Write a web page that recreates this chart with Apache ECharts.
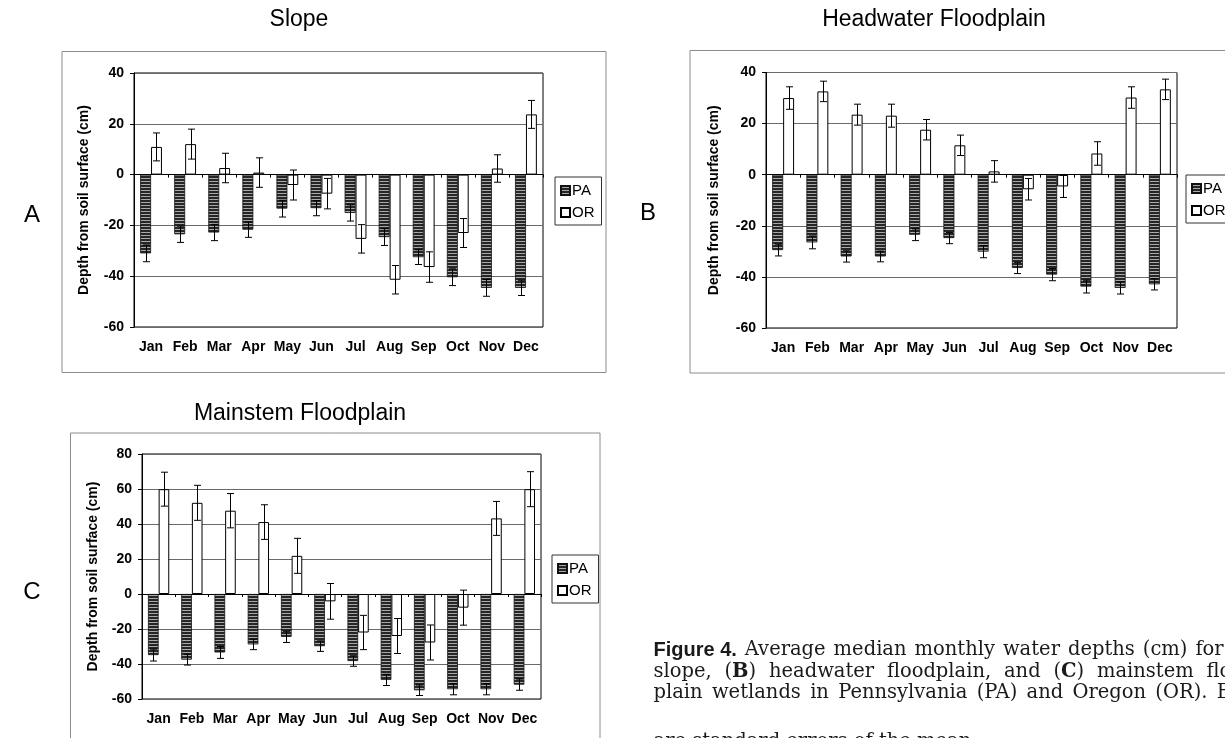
<!DOCTYPE html>
<html><head><meta charset="utf-8">
<script src="https://cdn.jsdelivr.net/npm/echarts@6/dist/echarts.min.js"></script>
<style>html,body{margin:0;padding:0;background:#fff}#c{width:1225px;height:738px}</style>
</head><body><div id="c"></div>
<script>
// ---------- data ----------
const months = ['Jan','Feb','Mar','Apr','May','Jun','Jul','Aug','Sep','Oct','Nov','Dec'];
const seriesNames = ['PA','OR'];
const yAxisName = 'Depth from soil surface (cm)';

const slopePA   = [-31.0,-23.5,-22.8,-21.7,-13.4,-13.2,-15.1,-24.6,-32.5,-40.4,-44.6,-44.6];
const slopePAse = [3.3,3.2,3.2,3.0,3.3,3.0,3.2,3.3,2.9,3.3,3.3,3.0];
const slopeOR   = [10.9,12.0,2.6,0.8,-4.1,-7.5,-25.3,-41.4,-36.4,-23.0,2.4,23.7];
const slopeORse = [5.5,5.9,5.8,5.8,5.9,6.0,5.6,5.6,6.0,5.7,5.4,5.5];

const headPA   = [-29.5,-26.5,-32.0,-32.0,-23.5,-24.8,-30.1,-36.5,-39.1,-43.8,-44.3,-42.9];
const headPAse = [2.3,2.5,2.2,2.1,2.3,2.2,2.4,2.2,2.4,2.5,2.4,2.2];
const headOR   = [30.0,32.6,23.5,23.1,17.6,11.5,1.3,-5.7,-4.6,8.3,30.2,33.4];
const headORse = [4.4,4.0,4.1,4.5,4.0,4.0,4.2,4.2,4.3,4.6,4.2,4.0];

const mainPA   = [-34.9,-37.5,-33.4,-28.8,-24.5,-29.8,-38.3,-49.1,-55.0,-54.4,-54.4,-51.8];
const mainPAse = [3.4,3.1,3.4,3.0,3.2,3.0,3.0,3.2,3.0,3.2,3.2,3.2];
const mainOR   = [59.9,52.1,47.6,41.1,21.8,-4.2,-22.0,-24.0,-27.7,-7.8,43.2,59.9];
const mainORse = [9.7,10.0,9.8,9.9,10.0,10.2,9.8,10.0,10.0,10.0,9.7,10.0];

const panelTitles = ['Slope','Headwater Floodplain','Mainstem Floodplain'];
const panelLetters = ['A','B','C'];
const yMinAB = -60, yMaxAB = 40;
const yMinC = -60, yMaxC = 80;
const yStep = 20;

const captionLead = 'Figure 4.';
const captionLines = [
  'Average median monthly water depths (cm) for (A)',
  'slope, (B) headwater floodplain, and (C) mainstem flood-',
  'plain wetlands in Pennsylvania (PA) and Oregon (OR). Bars',
  'are standard errors of the mean.'
];

// ---------- layout / style ----------
const SANS = '"Liberation Sans", Arial, sans-serif';
const SERIF = '"DejaVu Serif", serif';
const BAR_FRAC = 0.32;

function makeStripe(){
  const c = document.createElement('canvas');
  c.width = 4; c.height = 3;
  const g = c.getContext('2d');
  g.fillStyle = '#262626'; g.fillRect(0,0,4,3);
  g.fillStyle = '#a9a9a9'; g.fillRect(0,1,4,1);
  return c;
}
const paFill = { image: makeStripe(), repeat: 'repeat' };

const panels = [
  { pa: slopePA, paSe: slopePAse, or: slopeOR, orSe: slopeORse, yMin: yMinAB, yMax: yMaxAB,
    grid: {left:134, top:73, width:409, height:254}, nameGap: 43,
    legend: {left:555, top:177}, box: [62,51.5,544,321], titleXY: [299,20], letterXY: [32,215] },
  { pa: headPA, paSe: headPAse, or: headOR, orSe: headORse, yMin: yMinAB, yMax: yMaxAB,
    grid: {left:766, top:72.5, width:411, height:255.5}, nameGap: 45,
    legend: {left:1186, top:175}, box: [690,50.5,620,322.5], titleXY: [934,20], letterXY: [648,213] },
  { pa: mainPA, paSe: mainPAse, or: mainOR, orSe: mainORse, yMin: yMinC, yMax: yMaxC,
    grid: {left:142, top:454, width:399, height:245}, nameGap: 42,
    legend: {left:552, top:555}, box: [70.5,433,529.5,400], titleXY: [300,414], letterXY: [32,592] }
];

function errRender(side){
  return function(params, api){
    const k = api.value(0), v = api.value(1), se = api.value(2);
    const c = api.coord([k, v]);
    const bw = api.size([1, 0])[0];
    const x = Math.round(c[0] + side * bw * BAR_FRAC / 2) + 0.5;
    const hi = api.coord([k, v + se])[1];
    const lo = api.coord([k, v - se])[1];
    const cap = 3.5;
    const st = {stroke:'#000', lineWidth:1};
    return { type:'group', children:[
      {type:'line', shape:{x1:x, y1:hi, x2:x, y2:lo}, style:st},
      {type:'line', shape:{x1:x-cap, y1:hi, x2:x+cap, y2:hi}, style:st},
      {type:'line', shape:{x1:x-cap, y1:lo, x2:x+cap, y2:lo}, style:st}
    ]};
  };
}

const option = {
  animation: false,
  backgroundColor: '#fff',
  textStyle: { fontFamily: SANS, color: '#000' },
  grid: [], xAxis: [], yAxis: [], series: [], legend: [], graphic: []
};

panels.forEach((p, i) => {
  option.grid.push(Object.assign({}, p.grid, {show:true, borderColor:'#000', borderWidth:1,
    backgroundColor:'transparent', containLabel:false, outerBoundsMode:'none'}));
  option.xAxis.push({ gridIndex:i, type:'category', data:months, position:'bottom',
    axisLine:{onZero:true, lineStyle:{color:'#000', width:1}},
    axisTick:{show:true, length:3, lineStyle:{color:'#000'}},
    axisLabel:{show:false}, splitLine:{show:false} });
  option.xAxis.push({ gridIndex:i, type:'category', data:months, position:'bottom',
    axisLine:{show:false, onZero:false}, axisTick:{show:false},
    axisLabel:{interval:0, margin:13, fontSize:14, fontWeight:'bold', color:'#000', fontFamily:SANS},
    splitLine:{show:false} });
  option.yAxis.push({ gridIndex:i, type:'value', min:p.yMin, max:p.yMax, interval:yStep,
    axisLine:{show:true, lineStyle:{color:'#000'}},
    axisTick:{show:true, length:4, lineStyle:{color:'#000'}},
    axisLabel:{margin:10, fontSize:14, fontWeight:'bold', color:'#000', fontFamily:SANS},
    splitLine:{show:true, lineStyle:{color:'#6a6a6a', width:1}},
    name: yAxisName, nameLocation:'middle', nameGap:p.nameGap,
    nameTextStyle:{fontSize:14, fontWeight:'bold', color:'#000', fontFamily:SANS} });

  const xi = 2*i;
  option.series.push(
    { type:'bar', name:seriesNames[0], xAxisIndex:xi, yAxisIndex:i, data:p.pa,
      barWidth:(BAR_FRAC*100)+'%', barGap:'0%',
      itemStyle:{color:paFill, borderColor:'#111', borderWidth:0.8}, z:2 },
    { type:'bar', name:seriesNames[1], xAxisIndex:xi, yAxisIndex:i, data:p.or,
      barWidth:(BAR_FRAC*100)+'%', barGap:'0%',
      itemStyle:{color:'#fff', borderColor:'#000', borderWidth:1}, z:2 },
    { type:'custom', name:'PA SE', xAxisIndex:xi, yAxisIndex:i, silent:true, z:5,
      data:p.pa.map((v,k)=>[k, v, p.paSe[k]]), encode:{x:0, y:1}, renderItem:errRender(-1) },
    { type:'custom', name:'OR SE', xAxisIndex:xi, yAxisIndex:i, silent:true, z:5,
      data:p.or.map((v,k)=>[k, v, p.orSe[k]]), encode:{x:0, y:1}, renderItem:errRender(1) }
  );
  option.legend.push({ data:seriesNames, left:p.legend.left, top:p.legend.top, orient:'vertical',
    itemWidth:9, itemHeight:9, itemGap:7, padding:[6,7,5,5],
    borderColor:'#333', borderWidth:1, backgroundColor:'#fff',
    selectedMode:false, icon:'rect',
    textStyle:{fontSize:15, color:'#000', fontFamily:SANS, padding:[0,0,0,-3]} });

  option.graphic.push(
    { type:'rect', z:-1, shape:{x:p.box[0], y:p.box[1], width:p.box[2], height:p.box[3]},
      style:{fill:'none', stroke:'#8c8c8c', lineWidth:1} },
    { type:'text', x:p.titleXY[0], y:p.titleXY[1],
      style:{text:panelTitles[i], font:'23px '+SANS, fill:'#000', textAlign:'center', textVerticalAlign:'middle'} },
    { type:'text', x:p.letterXY[0], y:p.letterXY[1],
      style:{text:panelLetters[i], font:'24px '+SANS, fill:'#000', textAlign:'center', textVerticalAlign:'middle'} }
  );
});

// ---------- caption (justified) ----------
const capSize = 19.5;
const fNormal = capSize + 'px ' + SERIF;
const fBold = 'bold ' + capSize + 'px ' + SERIF;
const fLead = 'bold 20px ' + SANS;
const mctx = document.createElement('canvas').getContext('2d');
function mw(t, f){ mctx.font = f; return mctx.measureText(t).width; }
function tokWidth(tok){
  if (tok.lead) return mw(tok.text, fLead);
  const m = /^\(([A-C])\)$/.exec(tok.text);
  if (m) return mw('(', fNormal) + mw(m[1], fBold) + mw(')', fNormal);
  return mw(tok.text, fNormal);
}
function tokEl(tok, x, y){
  const m = /^\(([A-C])\)$/.exec(tok.text);
  if (tok.lead) return {type:'text', x, y, style:{text:tok.text, font:fLead, fill:'#1a1a1a', textVerticalAlign:'middle'}};
  if (m) return {type:'text', x, y, style:{text:'{n|(}{b|'+m[1]+'}{n|)}', textVerticalAlign:'middle',
      rich:{n:{font:fNormal, fill:'#1a1a1a'}, b:{font:fBold, fill:'#1a1a1a'}}}};
  return {type:'text', x, y, style:{text:tok.text, font:fNormal, fill:'#1a1a1a', textVerticalAlign:'middle'}};
}
const capX = 653.5, capRight = 1262;
const capY = [650, 671.5, 692.5, 742];
captionLines.forEach((line, li) => {
  const toks = line.split(' ').map(t => ({text:t}));
  if (li === 0) toks.unshift({text:captionLead, lead:true});
  const widths = toks.map(tokWidth);
  const total = widths.reduce((a,b)=>a+b, 0);
  const justify = li < captionLines.length - 1;
  const gap = justify ? (capRight - capX - total) / (toks.length - 1) : mw(' ', fNormal);
  let x = capX;
  toks.forEach((t, k) => {
    option.graphic.push(tokEl(t, x, capY[li]));
    x += widths[k] + gap;
  });
});

const chart = echarts.init(document.getElementById('c'), null, {renderer:'canvas'});
chart.setOption(option);
</script>
</body></html>
